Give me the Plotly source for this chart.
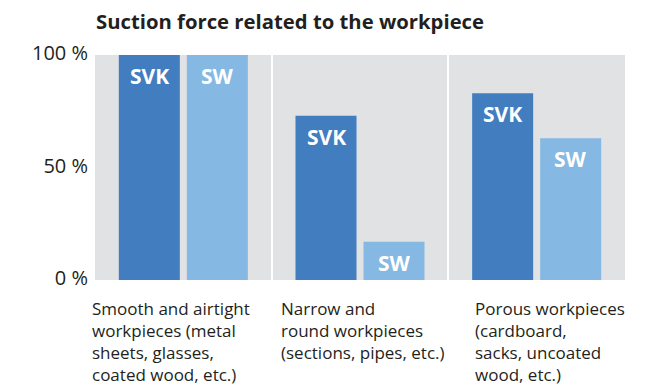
import plotly.graph_objects as go

categories = ["Smooth and airtight<br>workpieces (metal<br>sheets, glasses,<br>coated wood, etc.)",
              "Narrow and<br>round workpieces<br>(sections, pipes, etc.)",
              "Porous workpieces<br>(cardboard,<br>sacks, uncoated<br>wood, etc.)"]
cat_keys = ["smooth", "narrow", "porous"]
svk_values = [100, 73, 83]
sw_values = [100, 17, 63]
series_names = ["SVK", "SW"]
y_ticks = [0, 50, 100]
y_ticktext = ["0 %", "50 %", "100 %"]

svk_color = "#427dbf"
sw_color = "#85b9e3"
text_color = "#231f20"
font = "Open Sans"

# the page body has an 8px margin, so the figure is 8px smaller than the window
W, H = 658, 377

fig = go.Figure()
fig.add_trace(go.Bar(x=cat_keys, y=svk_values, name=series_names[0],
                     marker_color=svk_color, marker_line_width=0))
fig.add_trace(go.Bar(x=cat_keys, y=sw_values, name=series_names[1],
                     marker_color=sw_color, marker_line_width=0))

# bar labels near the top of each bar
for vals, name, shift in [(svk_values, series_names[0], -34), (sw_values, series_names[1], 34)]:
    for k, v in zip(cat_keys, vals):
        fig.add_annotation(x=k, y=v, text=name, showarrow=False, xshift=shift, yshift=-21,
                           yanchor="middle", font=dict(family=font, size=21, color="white", weight="bold"))

# category labels, left aligned under each group
label_shift = [-93, -81, -64]
for k, lab, s in zip(cat_keys, categories, label_shift):
    fig.add_annotation(x=k, y=0, yref="paper", text=lab, showarrow=False, xanchor="left",
                       yanchor="top", align="left", xshift=s, yshift=-15,
                       font=dict(family=font, size=17, color=text_color))

fig.update_layout(
    width=W, height=H,
    margin=dict(l=87, r=41, t=47, b=105),
    plot_bgcolor="#e1e2e4", paper_bgcolor="white",
    barmode="group", bargap=0.23, bargroupgap=0.103,
    showlegend=False,
    title=dict(text="<b>Suction force related to the workpiece</b>", x=88 / W, xanchor="left",
               xref="container", y=1 - 14 / H, yanchor="middle",
               font=dict(family=font, size=20.3, color=text_color)),
)
fig.update_xaxes(showticklabels=False, showgrid=True, gridcolor="white", gridwidth=2,
                 tickson="boundaries", ticks="", zeroline=False, range=[-0.5, 2.5])
fig.update_yaxes(range=[0, 100], tickvals=y_ticks, ticktext=y_ticktext, showgrid=False,
                 zeroline=False, ticks="", ticklabelstandoff=6, ticklabelshift=-2,
                 tickfont=dict(family=font, size=20, color=text_color))

fig.write_html("out.html")
